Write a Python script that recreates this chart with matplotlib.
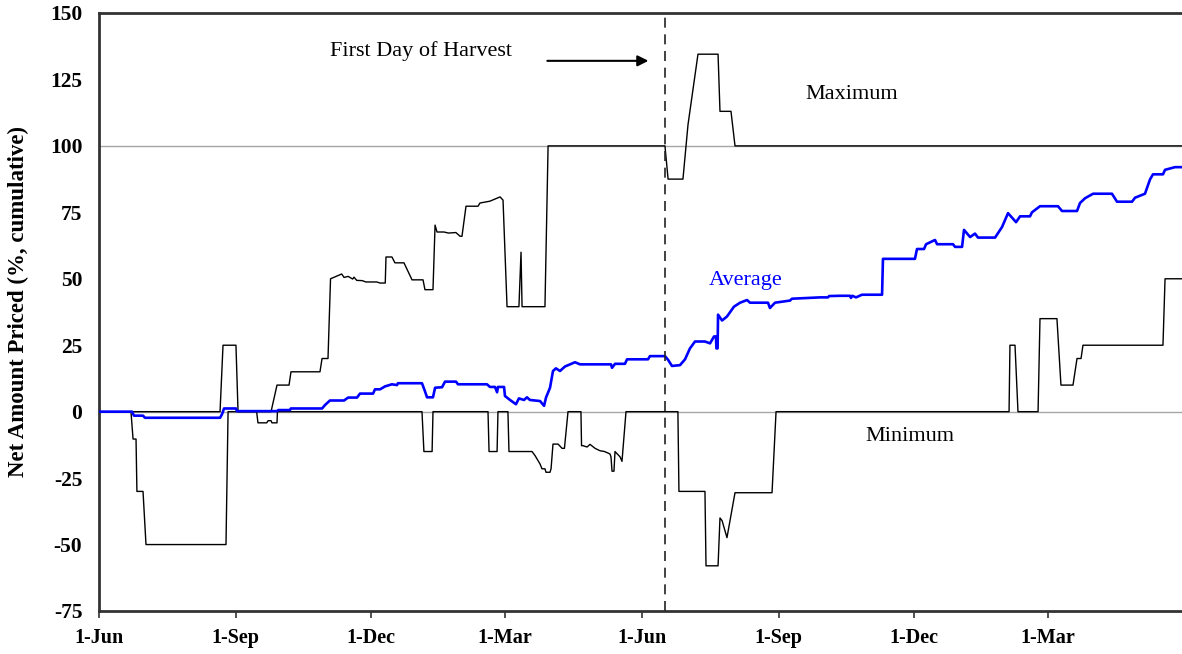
import matplotlib
matplotlib.use("Agg")
import matplotlib.pyplot as plt

# ---- data (days since 1-Jun of first year, value in %) ----
max_days = [0, 81.4, 83.4, 92.1, 93.5, 115.7, 119.7, 127.8, 129.1, 148.6, 150, 154, 155.7,
            163.2, 164.8, 167.5, 170.6, 171.5, 173.3, 177.1, 179.4, 186.8, 189, 192.5, 193,
            197, 199, 205.1, 210.5, 217.9, 219.2, 224.6, 226, 227.3, 232, 235, 240, 242.8,
            244.1, 246.8, 254.9, 256.2, 262.9, 269.7, 271.7, 274.4, 282.4, 283.8, 284.5,
            299.9, 302, 380.6, 382.7, 392.7, 396.1, 402.8, 416.3, 417.6, 425, 427.7, 728.3]
max_vals = [0, 0, 25, 25, 0, 0, 10, 10, 15, 15, 20, 20, 50,
            51.8, 50.5, 50.9, 49.9, 50.6, 49.4, 49.3, 48.8, 48.8, 48.4, 48.4, 58.2,
            58.2, 56, 56, 49.6, 49.6, 45.9, 45.9, 70.2, 67.6, 67.6, 67.2, 67.4, 66,
            66, 77.3, 77.3, 78.5, 79.2, 80.8, 79.6, 39.5, 39.5, 60, 39.5,
            39.5, 100, 100, 87.5, 87.5, 108, 134.5, 134.5, 113, 113, 100, 100]

min_days = [0, 21.5, 22.9, 24.9, 25.5, 29.6, 31.6, 85.4, 86.8, 106, 106.9, 112.8, 113.7,
            115.7, 116.3, 119.7, 120, 217.2, 218.5, 224, 224.6, 261.6, 262.3, 267.7, 268.3,
            275, 275.7, 291.2, 293.2, 296.6, 297.9, 299.9, 300.6, 303.3, 304, 305.3, 308.7,
            311.4, 313, 315.4, 324.1, 324.5, 325.5, 328.2, 330.2, 333.6, 336.9, 340, 343.6,
            344.3, 345, 346.3, 347, 350.4, 351.7, 354.4, 389.3, 390, 407.5, 408.2, 416.3,
            417.6, 419, 422.3, 427.7, 452.6, 455.3, 612, 612.6, 616, 618, 631.5, 632.8,
            644.2, 646.9, 655, 657.7, 660.4, 661.7, 715.5, 716.9, 728.3]
min_vals = [0, 0, -10.3, -10.3, -30, -30, -50, -50, 0, 0, -4.2, -4.2, -3.4,
            -3.4, -4.2, -4.2, 0, 0, -15, -15, 0, 0, -15, -15, 0,
            0, -15, -15, -16.5, -19.7, -21.5, -21.5, -22.8, -22.8, -21.5, -12.2, -12.2,
            -13.8, -13.8, 0, 0, -12.8, -12.8, -13.3, -12.3, -13.8, -14.7, -15, -15.9,
            -17, -22.4, -22.4, -15, -17, -18.7, 0, 0, -30, -30, -58, -58,
            -40, -41, -47.4, -30.5, -30.5, 0, 0, 25, 25, 0, 0, 35,
            35, 10, 10, 20, 20, 25, 25, 50, 50]

avg_days = [0, 22.2, 23.5, 29.6, 30.9, 81.4, 82.7, 84.1, 92.1, 92.8, 119.7, 120.5, 128.4,
            129, 150, 152, 155.3, 164.8, 167.5, 173.5, 175.5, 184.3, 185.6, 189, 192.3, 197,
            200.4, 201, 217.2, 219, 220.6, 224.6, 226, 230.7, 232.7, 240.1, 241.4, 260.9,
            262.9, 266.3, 267.7, 268.3, 272.4, 273, 276.4, 280.4, 282.4, 285.8, 287.8, 289.8,
            296.6, 299.3, 300.6, 303.3, 305.3, 307.3, 310, 313.4, 316.7, 320.1, 323.5, 344.3,
            345, 347, 353.7, 355.1, 369.2, 370.5, 380.6, 382.7, 385.3, 390.7, 394.1, 397.4,
            400.8, 407.5, 410.9, 413.6, 414.9, 415.2, 416, 416.3, 419, 422.3, 427, 431.1,
            435.8, 437.8, 449.9, 451.2, 454.6, 464.7, 466, 484.9, 490.2, 491, 498.3, 505,
            505.7, 506.5, 509.1, 513.1, 526.6, 527.2, 548.7, 550.1, 554.8, 556.2, 562.2,
            563.6, 574.3, 575.7, 580.4, 581.7, 585.8, 589.1, 591.1, 602.6, 607.3, 611.3,
            616.7, 619.4, 626.1, 627.4, 632.8, 644.9, 647.6, 657.7, 659.7, 663.1, 668.5,
            681.2, 684.6, 694.7, 696.7, 703.4, 706.8, 708.8, 715.5, 716.9, 723.6, 728.3]
avg_vals = [0, 0, -1.5, -1.5, -2.3, -2.3, -1, 1.2, 1.2, 0.2, 0.2, 0.6, 0.6,
            1.2, 1.2, 2.5, 4.2, 4.2, 5.3, 5.3, 6.8, 6.8, 8.4, 8.4, 9.5, 10.3,
            10, 10.7, 10.7, 8, 5.4, 5.4, 9, 9.2, 11.3, 11.3, 10.3, 10.3,
            9.3, 9.3, 7.3, 9.3, 9.3, 5.9, 4.4, 2.8, 5, 4.4, 5.4, 4.4,
            4, 2.2, 5.3, 9, 15.3, 16.3, 15.3, 17, 17.8, 18.6, 17.8, 17.8,
            16.5, 18, 18, 19.7, 19.7, 20.9, 20.9, 19.5, 17.2, 17.5, 19.7, 23.8,
            26.4, 26.4, 25.7, 28.3, 28.3, 23.8, 23.8, 36.5, 34.3, 35.8, 39.5, 41,
            42, 41, 41, 39, 41, 41.8, 42.5, 43, 43, 43.5, 43.6, 43.6,
            42.8, 43.6, 43, 44, 44, 57.5, 57.5, 61.2, 61.2, 63, 64.6,
            63, 63, 62, 62, 68.4, 65.7, 67, 65.5, 65.5, 69.5, 74.7,
            71.3, 73.5, 73.5, 75, 77.3, 77.3, 75.5, 75.5, 78.5, 80.3, 82,
            82, 79, 79, 80.5, 82, 87.4, 89.3, 89.3, 91, 92, 92]

tick_days = [0, 92, 183, 273, 365, 457, 548, 638]
tick_labels = ["1-Jun", "1-Sep", "1-Dec", "1-Mar", "1-Jun", "1-Sep", "1-Dec", "1-Mar"]
y_ticks = [-75, -50, -25, 0, 25, 50, 75, 100, 125, 150]
harvest_day = 380.6

# ---- figure ----
serif = ["Liberation Serif", "DejaVu Serif"]
fig = plt.figure(figsize=(11.82, 6.54), dpi=100)
ax = fig.add_axes([99/1182, 43/654, (1182-99)/1182, (611-13)/654])

ax.axhline(0, color="#a6a6a6", lw=1.0, zorder=1)
ax.axhline(100, color="#a6a6a6", lw=1.0, zorder=1)

ax.plot(max_days, max_vals, color="black", lw=1.0, zorder=3)
ax.plot(min_days, min_vals, color="black", lw=1.0, zorder=3)
ax.plot(avg_days, avg_vals, color="#0000ff", lw=1.9, zorder=4)

ax.axvline(harvest_day, color="#222222", lw=1.2, ls=(0, (6, 4)), zorder=5)

ax.set_xlim(0, 728.3)
ax.set_ylim(-75, 150)
ax.set_yticks(y_ticks)
ax.set_yticklabels([str(v) for v in y_ticks], fontfamily=serif, fontweight="bold", fontsize=15.5)
ax.set_xticks(tick_days)
ax.set_xticklabels(tick_labels, fontfamily=serif, fontweight="bold", fontsize=14.5)
ax.tick_params(axis="y", length=0, pad=12)
ax.tick_params(axis="x", length=5, width=1.2, direction="out", pad=7, color="#333333")

for s in ["left", "bottom", "top"]:
    ax.spines[s].set_color("#333333")
    ax.spines[s].set_linewidth(2.0)
ax.spines["right"].set_visible(False)

ax.set_ylabel("Net Amount Priced (%, cumulative)", fontfamily=serif, fontweight="bold",
              fontsize=16.5)
ax.yaxis.set_label_coords(-0.065, 0.517)

txt_size = 16
ax.text(155.3, 135.5, "First Day of Harvest", fontfamily=serif, fontsize=txt_size,
        va="center", ha="left")
ax.annotate("", xy=(369.5, 132), xytext=(301.5, 132),
            arrowprops=dict(arrowstyle="-|>", color="black", lw=1.5,
                            mutation_scale=16, shrinkA=0, shrinkB=0))
ax.text(474.8, 119.3, "Maximum", fontfamily=serif, fontsize=txt_size, va="center", ha="left")
ax.text(410.2, 49.5, "Average", fontfamily=serif, fontsize=txt_size, va="center", ha="left",
        color="#0000ff")
ax.text(515.1, -9.2, "Minimum", fontfamily=serif, fontsize=txt_size, va="center", ha="left")

fig.savefig("out.png", dpi=100)
